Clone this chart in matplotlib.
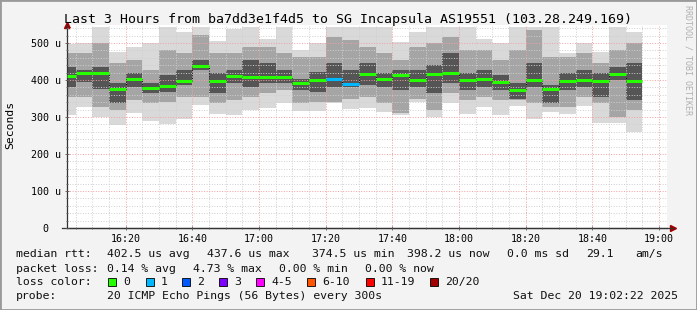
import matplotlib
matplotlib.use('Agg')
import matplotlib.pyplot as plt
from matplotlib.patches import Rectangle
from matplotlib.ticker import MultipleLocator
import numpy as np

# time axis in minutes after 16:00, graph covers 16:02:22 .. 19:02:22
t_start = 2 + 22 / 60.0
t_end = 182 + 22 / 60.0
step = 5
bar_end = np.arange(5, 180, step)   # 16:05 .. 18:55

# smoke per 5 min step, microseconds
median = [411, 420, 420, 376, 404, 379, 384, 398, 438, 396, 412, 408, 408, 408, 393, 400, 403, 390,
          417, 404, 414, 400, 417, 420, 400, 403, 395, 373, 400, 376, 397, 400, 397, 417, 397]
hi = [497, 499, 542, 475, 488, 499, 542, 530, 542, 506, 537, 542, 510, 542, 481, 501, 542, 542,
      542, 542, 504, 530, 542, 542, 542, 512, 501, 542, 542, 542, 474, 501, 477, 542, 530]
lo = [305, 326, 299, 278, 312, 290, 281, 295, 332, 308, 305, 318, 323, 337, 317, 317, 337, 321,
      323, 314, 305, 341, 301, 337, 308, 326, 305, 330, 295, 314, 308, 330, 285, 285, 260]
mid_hi = [472, 472, 499, 445, 454, 427, 481, 472, 521, 472, 472, 490, 490, 472, 463, 463, 517, 508,
          490, 472, 454, 490, 499, 517, 481, 481, 454, 481, 535, 463, 463, 472, 445, 481, 499]
mid_lo = [355, 355, 328, 319, 346, 337, 341, 355, 355, 337, 346, 355, 364, 373, 337, 341, 341, 350,
          355, 337, 310, 350, 319, 364, 346, 355, 346, 346, 337, 328, 328, 355, 337, 301, 319]
dark_hi = [436, 427, 436, 391, 418, 391, 413, 427, 454, 418, 427, 454, 445, 427, 404, 422, 445, 427,
           445, 418, 427, 427, 441, 472, 418, 427, 413, 391, 445, 386, 418, 427, 418, 436, 445]
dark_lo = [382, 395, 376, 337, 382, 364, 368, 386, 427, 364, 391, 382, 391, 391, 373, 368, 382, 382,
           386, 382, 373, 382, 364, 391, 373, 382, 373, 350, 382, 337, 373, 382, 355, 400, 346]
lost = [0, 0, 0, 0, 0, 0, 0, 0, 0, 0, 0, 0, 0, 0, 0, 0, 1, 1,
        0, 0, 0, 0, 0, 0, 0, 0, 0, 0, 0, 0, 0, 0, 0, 0, 0]

loss_labels = ['0', '1', '2', '3', '4-5', '6-10', '11-19', '20/20']
loss_colors = ['#26ff00', '#00b8ff', '#0059ff', '#7e00ff', '#ff00ff', '#ff5500', '#ff0000', '#a10000']
xtick_min = [20, 40, 60, 80, 100, 120, 140, 160, 180]
xtick_lab = ['16:20', '16:40', '17:00', '17:20', '17:40', '18:00', '18:20', '18:40', '19:00']
ytick_val = [0, 100, 200, 300, 400, 500]
ytick_lab = ['0  ', '100 u', '200 u', '300 u', '400 u', '500 u']

W, H = 697, 310
plt.rcParams['font.family'] = 'DejaVu Sans Mono'
fig = plt.figure(figsize=(W / 100, H / 100), dpi=100)
fig.patch.set_facecolor('#f3f3f3')

def fx(x):
    return x / W

def fy(y):
    return 1 - y / H

ax = fig.add_axes([fx(67), fy(228), fx(600), (228 - 24.5) / H])
ax.set_facecolor('white')

left = np.maximum(bar_end - step, t_start)
widths = bar_end - left
lo_a, hi_a = np.array(lo), np.array(hi)
ax.bar(left, hi_a - lo_a, bottom=lo_a, width=widths, align='edge', color='#d9d9d9', lw=0, zorder=1)
ax.bar(left, np.array(mid_hi) - np.array(mid_lo), bottom=mid_lo, width=widths, align='edge',
       color='#a5a5a5', lw=0, zorder=1.1)
ax.bar(left, np.array(dark_hi) - np.array(dark_lo), bottom=dark_lo, width=widths, align='edge',
       color='#555555', lw=0, zorder=1.2)

# median: black step connectors and loss-coloured segments
ax.step(np.append(left, bar_end[-1]), np.append(median, median[-1]), where='post',
        color='black', lw=0.7, ls=':', zorder=3)
seg_col = [loss_colors[n] for n in lost]
ax.hlines(median, left, bar_end, colors=seg_col, lw=2.2, zorder=4)

ax.set_xlim(t_start, t_end)
ax.set_ylim(0, 550)
ax.xaxis.set_minor_locator(MultipleLocator(5))
ax.yaxis.set_minor_locator(MultipleLocator(20))
ax.set_xticks(xtick_min)
ax.set_xticklabels(xtick_lab, fontsize=7.2)
ax.set_yticks(ytick_val)
ax.set_yticklabels(ytick_lab, fontsize=7.2)
ax.set_axisbelow(False)
ax.grid(which='minor', color='#cfcfcf', ls=':', lw=0.7)
ax.grid(which='major', color='#f2a0a0', ls=':', lw=0.7)
ax.tick_params(which='both', direction='inout', length=3, width=0.6, color='#555555', pad=3)
ax.tick_params(which='minor', length=2)
for s in ['top', 'right']:
    ax.spines[s].set_visible(False)
for s in ['left', 'bottom']:
    ax.spines[s].set_color('#333333')
    ax.spines[s].set_linewidth(0.9)
ax.plot([0], [1.0], transform=ax.transAxes, marker='^', color='#a00000', ms=4, clip_on=False)
ax.plot([1.01], [0], transform=ax.transAxes, marker='>', color='#a00000', ms=4, clip_on=False)
ax.plot([-0.008, 1.01], [0, 0], transform=ax.transAxes, color='#333333', lw=0.9, clip_on=False)

fig.text(fx(10), fy(125), 'Seconds', rotation=90, ha='center', va='center', fontsize=8.2)
fig.text(fx(64), fy(19), 'Last 3 Hours from ba7dd3e1f4d5 to SG Incapsula AS19551 (103.28.249.169)',
         ha='left', va='center', fontsize=9.5)
fig.text(fx(688), fy(60), 'RRDTOOL / TOBI OETIKER', rotation=-90, ha='center', va='center',
         fontsize=6, color='#b0b0b0')

fs = 8.25
def put(x, y, s):
    fig.text(fx(x), fy(y), s, ha='left', va='center', fontsize=fs, color='#111111')

put(16, 254, 'median rtt:')
put(107, 254, '402.5 us avg')
put(207, 254, '437.6 us max')
put(312, 254, '374.5 us min')
put(407, 254, '398.2 us now')
put(507, 254, '0.0 ms sd')
put(586, 254, '29.1')
put(635, 254, 'am/s')

put(16, 268.5, 'packet loss:')
put(107, 268.5, '0.14 % avg')
put(193, 268.5, '4.73 % max')
put(279, 268.5, '0.00 % min')
put(365, 268.5, '0.00 % now')

put(16, 282, 'loss color:')
box_x = [108, 146, 182, 219, 256, 307, 366, 430]
for bx, lab, col in zip(box_x, loss_labels, loss_colors):
    fig.patches.append(Rectangle((fx(bx), fy(286)), fx(7.5), 8 / H, transform=fig.transFigure,
                                 facecolor=col, edgecolor='black', lw=0.6))
    put(bx + 15, 282, lab)

put(16, 296, 'probe:')
put(107, 296, '20 ICMP Echo Pings (56 Bytes) every 300s')
put(513, 296, 'Sat Dec 20 19:02:22 2025')

# frame
fig.patches.append(Rectangle((0, 0), 1, 1, transform=fig.transFigure, fill=False,
                             edgecolor='#9a9a9a', lw=2))

fig.savefig('out.png', dpi=100, facecolor=fig.get_facecolor())
